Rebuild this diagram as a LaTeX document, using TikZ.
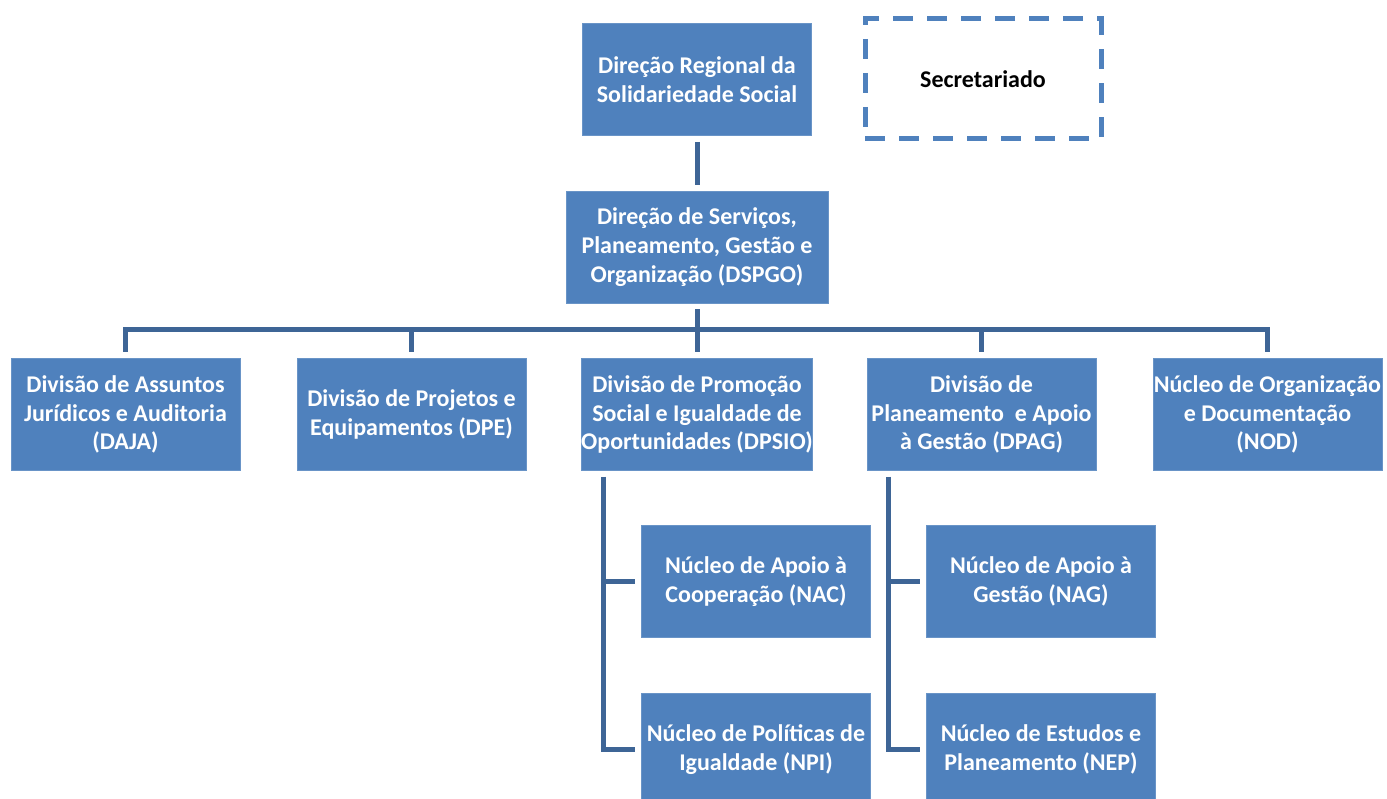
\documentclass[tikz,border=0pt]{standalone}
\usepackage{fontspec}
\setmainfont{Carlito}
\usepackage{tikz}
\usetikzlibrary{positioning}

\definecolor{boxblue}{HTML}{4F81BD}
\definecolor{linkblue}{HTML}{3E6596}

\tikzset{
  unit/.style={fill=boxblue, draw=boxblue!85!white, line width=0.8pt,
    minimum width=229pt, minimum height=112pt, inner sep=0pt, align=center,
    text=white, font=\fontsize{24}{28.7}\selectfont\bfseries},
  secbox/.style={draw=boxblue, line width=5pt, dash pattern=on 20pt off 14pt,
    minimum width=236pt, minimum height=120pt, inner sep=0pt,
    font=\fontsize{24}{28.7}\selectfont\bfseries},
  link/.style={draw=linkblue, line width=5pt, shorten <=6pt, shorten >=6pt}
}

\begin{document}
\begin{tikzpicture}[x=1pt, y=-1pt]
\useasboundingbox (0,0) rectangle (1387,799);
\clip (0,0) rectangle (1387,799);
% top of the chart
\node[unit] (drss) at (697,79.5) {Direção Regional da\\Solidariedade Social};
\node[secbox] (sec) at (983,79) {Secretariado};
\node[unit, minimum width=262pt] (dspgo) at (697,247) {Direção de Serviços,\\Planeamento, Gestão e\\Organização (DSPGO)};
% divisions
\node[unit] (daja) at (125.5,414.5) {Divisão de Assuntos\\Jurídicos e Auditoria\\(DAJA)};
\node[unit] (dpe) at (411.5,414.5) {Divisão de Projetos e\\Equipamentos (DPE)};
\node[unit] (dpsio) at (697,414.5) {Divisão de Promoção\\Social e Igualdade de\\Oportunidades (DPSIO)};
\node[unit] (dpag) at (981.5,414.5) {Divisão de\\Planeamento\ \ e Apoio\\à Gestão (DPAG)};
\node[unit] (nod) at (1267.5,414.5) {Núcleo de Organização\\e Documentação\\(NOD)};
% nuclei
\node[unit] (nac) at (756,581.5) {Núcleo de Apoio à\\Cooperação (NAC)};
\node[unit] (npi) at (756,749.5) {Núcleo de Políticas de\\Igualdade (NPI)};
\node[unit] (nag) at (1041,581.5) {Núcleo de Apoio à\\Gestão (NAG)};
\node[unit] (nep) at (1041,749.5) {Núcleo de Estudos e\\Planeamento (NEP)};
% connectors
\draw[link] (drss) -- (dspgo);
\foreach \d in {daja,dpe,dpsio,dpag,nod}
  \draw[link] (dspgo.south) -- ++(0,26) -| (\d.north);
\foreach \d/\n in {dpsio/nac,dpsio/npi,dpag/nag,dpag/nep}
  \draw[link] ([xshift=-93.5pt]\d.south) |- (\n.west);
\end{tikzpicture}
\end{document}
